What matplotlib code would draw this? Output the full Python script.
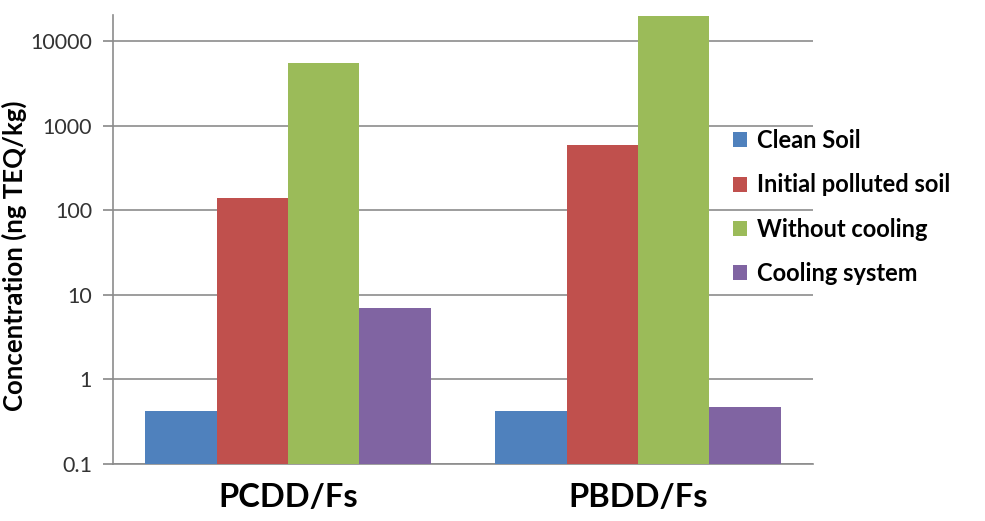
import numpy as np
import matplotlib.pyplot as plt

plt.rcParams['font.family'] = ['Lato', 'DejaVu Sans']

categories = ['PCDD/Fs', 'PBDD/Fs']
series_names = ['Clean Soil', 'Initial polluted soil', 'Without cooling', 'Cooling system']
clean_soil = [0.42, 0.42]
initial_polluted = [140, 590]
without_cooling = [5450, 20000]
cooling_system = [7.0, 0.47]
tick_vals = [0.1, 1, 10, 100, 1000, 10000]
tick_labels = ['0.1', '1', '10', '100', '1000', '10000']

colors = ['#4F81BD', '#C0504D', '#9BBB59', '#8064A2']
all_series = [clean_soil, initial_polluted, without_cooling, cooling_system]

fig = plt.figure(figsize=(9.85, 5.21), dpi=100)
ax = fig.add_axes([0.1147, 0.1094, 0.7107, 0.8618])

x = np.arange(len(categories))
w = 0.204
for i, (name, vals) in enumerate(zip(series_names, all_series)):
    ax.bar(x + (i - 1.5) * w, vals, w, color=colors[i], label=name, zorder=3)

ax.set_yscale('log')
ax.set_ylim(0.1, 20300)
ax.set_xlim(-0.5, 1.5)
ax.set_yticks(tick_vals)
ax.set_yticklabels(tick_labels, fontsize=15.5, color='#333333')
ax.yaxis.set_minor_locator(plt.NullLocator())
ax.set_xticks(x)
ax.set_xticklabels(categories, fontsize=23.5, fontweight='bold')
ax.tick_params(axis='x', length=0, pad=14)
ax.tick_params(axis='y', length=7, color='#888888', width=1.2, pad=8)
ax.grid(axis='y', color='#8c8c8c', lw=1.2, zorder=0)
for s in ['top', 'right']:
    ax.spines[s].set_visible(False)
for s in ['left', 'bottom']:
    ax.spines[s].set_color('#8c8c8c')
    ax.spines[s].set_linewidth(1.2)

ax.set_ylabel('Concentration (ng TEQ/kg)', fontsize=18.5, fontweight='bold',
              labelpad=2, y=0.463)

leg = ax.legend(loc='center left', bbox_to_anchor=(733 / 985, 1 - 207 / 521),
                bbox_transform=fig.transFigure, frameon=False,
                prop={'size': 17, 'weight': 'bold'}, handlelength=0.6, handleheight=0.6,
                handletextpad=0.42, labelspacing=0.9, borderaxespad=0, borderpad=0)

fig.savefig('out.png', dpi=100)
